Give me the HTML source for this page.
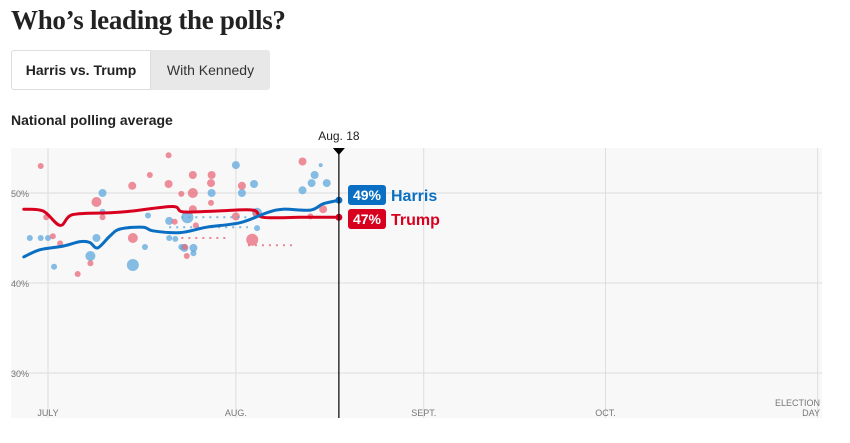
<!DOCTYPE html>
<html><head><meta charset="utf-8"><style>
body{margin:0;width:850px;height:443px;background:#fff;font-family:"Liberation Sans",sans-serif;position:relative;overflow:hidden}
.t{position:absolute}
</style></head><body>
<div class="t" style="left:11px;top:5px;font-family:'Liberation Serif',serif;font-weight:bold;font-size:27px;color:#222;letter-spacing:-0.3px">Who’s leading the polls?</div>
<div class="t" style="left:11px;top:50px;width:259px;height:40px;background:#e8e8e8;border-radius:3px">
 <div class="t" style="left:0;top:0;width:138px;height:38px;background:#fff;border:1px solid #ddd;border-radius:3px 0 0 3px;font-weight:bold;font-size:14px;line-height:38px;text-align:center;color:#222">Harris vs. Trump</div>
 <div class="t" style="left:140px;top:0;width:119px;height:40px;font-size:14px;line-height:40px;text-align:center;color:#333">With Kennedy</div>
</div>
<div class="t" style="left:11px;top:112px;font-weight:bold;font-size:14px;color:#222">National polling average</div>
<svg id="c" class="t" style="left:0;top:0" width="850" height="443"></svg>
<script>
const monthLabels=["JULY","AUG.","SEPT.","OCT."];
const monthDays=[0,31,62,92];
const yTicks=[30,40,50];
const harrisDays=[-4,-1.3,2.5,5.3,6.9,8.2,10.2,11.9,15.7,17.3,21.8,26.2,31.7,36.1,38.8,43.3,45.4,48];
const harrisVals=[42.9,43.7,44.1,44.6,44.5,43.9,45.2,46.0,46.2,45.8,45.6,46.2,46.7,47.8,48.2,48.1,48.8,49.2];
const trumpDays=[-4,-0.8,2,4.1,10.2,14,20.6,22.3,27.9,33.8,35.5,41.6,48];
const trumpVals=[48.2,48.0,46.4,47.6,47.8,48.0,48.5,47.9,48.0,48.1,47.3,47.3,47.3];
const harrisPollDays=[-3,-1.2,0,1,7,8,9,9,14,16,16.5,20,20,21,22,23,22.5,24,24,27,31,32,34,34.5,34.5,42,43.5,44,46,45];
const harrisPollVals=[45,45,45,41.8,43,45,50,47.9,42,44,47.5,46.9,45,44.9,44,47.3,43.9,43.9,43.3,50,53.1,50,51,47.8,46.1,50.3,51.1,52,51.1,53.1];
const harrisPollSizes=[3,3,3,3,5,4,4,3,6,3,3,4,3,3,3,6,4,4,3,4,4,4,4,5,3,4,4,4,4,2];
const trumpPollDays=[-1.2,-0.3,0.8,2,4.9,7,8,9,13.9,16.8,14,19.9,19.9,20.9,22,22.6,22.9,23.9,23.9,23.9,24.4,27,26.9,26.9,31,32,33.7,34.3,42,43.3,45.4];
const trumpPollVals=[53,47.3,45.2,44.4,41,42.2,49,47.3,50.8,52,45,54.2,51,46.8,49.9,44,43,52,50,48.2,46.4,52,51.1,48.9,47.4,50.8,44.8,47.7,53.5,47.4,48.2];
const trumpPollSizes=[3,3,3,3,3,3,5,3,4,3,5,3,4,3,3,3,3,4,5,4,3,4,4,3,4,4,6,3,4,3,4];
const X=d=>48+d*6.06, Y=v=>193+(50-v)*9;
const s=document.getElementById('c'),NS='http://www.w3.org/2000/svg';
function mk(tag,at,txt){const e=document.createElementNS(NS,tag);for(const k in at)e.setAttribute(k,at[k]);if(txt!=null)e.textContent=txt;s.appendChild(e);return e;}
let e=mk('rect',{x:11,y:148,width:811,height:270,fill:'#f8f8f8'});


yTicks.forEach(v=>{let g=mk('line',{x1:11,x2:822,y1:Y(v),y2:Y(v),stroke:'#ddd'});


let t=mk('text',{x:11,y:Y(v)+4,'font-size':9,fill:'#777','font-family':'Liberation Sans'},v+'%');

});
monthDays.concat([127]).forEach(d=>{let g=mk('line',{x1:X(d),x2:X(d),y1:148,y2:418,stroke:'#ddd'});

});
monthLabels.forEach((l,i)=>{let t=mk('text',{x:X(monthDays[i]),y:416,'font-size':9,fill:'#777','text-anchor':'middle','font-family':'Liberation Sans'},l);

});
let el1=mk('text',{x:820,y:406,'font-size':9,fill:'#777','text-anchor':'end'},'ELECTION');


let el2=mk('text',{x:820,y:416,'font-size':9,fill:'#777','text-anchor':'end'},'DAY');


function dots(days,vals,sz,col,name){days.forEach((d,i)=>{let c=mk('circle',{cx:X(d),cy:Y(vals[i]),r:sz[i],fill:col,opacity:0.75});

});}
dots(harrisPollDays,harrisPollVals,harrisPollSizes,'#5fa8dc','harris-poll-dot');
dots(trumpPollDays,trumpPollVals,trumpPollSizes,'#ea6a7a','trump-poll-dot');
function dotted(d1,d2,v,col){let l=mk('line',{x1:X(d1),x2:X(d2),y1:Y(v),y2:Y(v),stroke:col,'stroke-width':2,'stroke-dasharray':'2 5',opacity:0.8});

}
dotted(22,33,47.3,'#5fa8dc');dotted(20,33,46.2,'#5fa8dc');dotted(22,30,45,'#ea6a7a');dotted(33,41,44.2,'#ea6a7a');
function line(days,vals,col,name){const P=days.map((d,i)=>[X(d),Y(vals[i])]);
let p='M'+P[0][0].toFixed(1)+' '+P[0][1].toFixed(1);
for(let i=0;i<P.length-1;i++){const p0=P[Math.max(0,i-1)],p1=P[i],p2=P[i+1],p3=P[Math.min(P.length-1,i+2)];
const c1=[p1[0]+(p2[0]-p0[0])/6,p1[1]+(p2[1]-p0[1])/6],c2=[p2[0]-(p3[0]-p1[0])/6,p2[1]-(p3[1]-p1[1])/6];
p+='C'+c1.map(v=>v.toFixed(1)).join(' ')+' '+c2.map(v=>v.toFixed(1)).join(' ')+' '+p2.map(v=>v.toFixed(1)).join(' ');}
let l=mk('path',{d:p,fill:'none',stroke:col,'stroke-width':3,'stroke-linejoin':'round','stroke-linecap':'round'});


let c=mk('circle',{cx:X(days[days.length-1]),cy:Y(vals[vals.length-1]),r:3.5,fill:col});

}
line(trumpDays,trumpVals,'#d8001f','trump-average-line');
line(harrisDays,harrisVals,'#0a6fc2','harris-average-line');
let m=mk('line',{x1:X(48),x2:X(48),y1:148,y2:418,stroke:'#000','stroke-width':1.2});


let tr=mk('path',{d:`M${X(48)-6} 148L${X(48)+6} 148L${X(48)} 155Z`,fill:'#000'});


let dl=mk('text',{x:X(48),y:140,'font-size':12,fill:'#222','text-anchor':'middle'},'Aug. 18');


function tag(y,col,pct,name,key){let r=mk('rect',{x:348,y:y,width:38,height:20,rx:3,fill:col});


let t=mk('text',{x:367,y:y+15,'font-size':14,'font-weight':'bold',fill:'#fff','text-anchor':'middle'},pct);


let n=mk('text',{x:391,y:y+16,'font-size':16,'font-weight':'bold',fill:col},name);

}
tag(185,'#0a6fc2','49%','Harris','harris');
tag(209,'#d8001f','47%','Trump','trump');
</script>
</body></html>
